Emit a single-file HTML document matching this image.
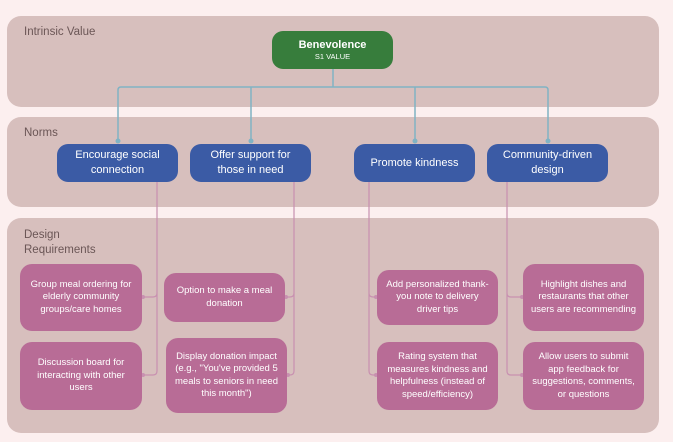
<!DOCTYPE html>
<html><head><meta charset="utf-8"><style>
body{margin:0;width:673px;height:442px;background:#fcefef;position:relative;overflow:hidden;font-family:"Liberation Sans",sans-serif}
.p{position:absolute;background:#d7bfbd;border-radius:14px}
.lab{position:absolute;color:#6b5656;font-size:11.5px;line-height:15px}
.b{position:absolute;display:flex;align-items:center;justify-content:center;text-align:center;color:#fff;box-sizing:border-box}
.n{background:#3b5ba5;border-radius:11px;font-size:11px;line-height:15px;padding:0 6px}
.d{background:#b86c96;border-radius:12px;font-size:9.5px;line-height:12.5px;padding:0 7px}
svg{position:absolute;left:0;top:0}
</style></head><body>
<div class="p" style="left:7px;top:16px;width:652px;height:91px"></div>
<div class="p" style="left:7px;top:117px;width:652px;height:90px"></div>
<div class="p" style="left:7px;top:218px;width:652px;height:215px"></div>
<div class="lab" style="left:24px;top:25px">Intrinsic Value</div>
<div class="lab" style="left:24px;top:126px">Norms</div>
<div class="lab" style="left:24px;top:228px">Design<br>Requirements</div>
<svg width="673" height="442">
<g fill="none" stroke="#80b3c4" stroke-width="1.5">
<path d="M333 69V87M118 141V90q0-3 3-3H545q3 0 3 3V141M251 87V141M415 87V141"/>
</g>
<g fill="#80b3c4"><circle cx="118" cy="141" r="2.5"/><circle cx="251" cy="141" r="2.5"/><circle cx="415" cy="141" r="2.5"/><circle cx="548" cy="141" r="2.5"/></g>
<g fill="none" stroke="#c890b0" stroke-width="1.2">
<path d="M157 182V371q0 4-4 4H142M157 293q0 4-4 4H142"/>
<path d="M294 182V371q0 4-4 4H287M294 293q0 4-4 4H285"/>
<path d="M369 182V371q0 4 4 4H377M369 293q0 4 4 4H377"/>
<path d="M507 182V371q0 4 4 4H523M507 293q0 4 4 4H523"/>
</g>
<g fill="#c890b0"><circle cx="143" cy="297" r="2"/><circle cx="143" cy="375" r="2"/><circle cx="286" cy="297" r="2"/><circle cx="288" cy="375" r="2"/><circle cx="376" cy="297" r="2"/><circle cx="376" cy="375" r="2"/><circle cx="522" cy="297" r="2"/><circle cx="522" cy="375" r="2"/></g>
</svg>
<div class="b" style="left:272px;top:31px;width:121px;height:38px;background:#377d3c;border-radius:11px;flex-direction:column"><div style="font-size:11px;font-weight:bold;line-height:13px">Benevolence</div><div style="font-size:7.5px;line-height:10px">S1 VALUE</div></div>
<div class="b n" style="left:57px;top:144px;width:121px;height:38px">Encourage social connection</div>
<div class="b n" style="left:190px;top:144px;width:121px;height:38px">Offer support for those in need</div>
<div class="b n" style="left:354px;top:144px;width:121px;height:38px">Promote kindness</div>
<div class="b n" style="left:487px;top:144px;width:121px;height:38px">Community-driven design</div>
<div class="b d" style="left:20px;top:264px;width:122px;height:67px">Group meal ordering for elderly community groups/care homes</div>
<div class="b d" style="left:20px;top:342px;width:122px;height:68px">Discussion board for interacting with other users</div>
<div class="b d" style="left:164px;top:273px;width:121px;height:49px">Option to make a meal donation</div>
<div class="b d" style="left:166px;top:338px;width:121px;height:75px">Display donation impact (e.g., "You've provided 5 meals to seniors in need this month")</div>
<div class="b d" style="left:377px;top:270px;width:121px;height:55px">Add personalized thank-you note to delivery driver tips</div>
<div class="b d" style="left:377px;top:342px;width:121px;height:68px">Rating system that measures kindness and helpfulness (instead of speed/efficiency)</div>
<div class="b d" style="left:523px;top:264px;width:121px;height:67px">Highlight dishes and restaurants that other users are recommending</div>
<div class="b d" style="left:523px;top:342px;width:121px;height:68px">Allow users to submit app feedback for suggestions, comments, or questions</div>
</body></html>
